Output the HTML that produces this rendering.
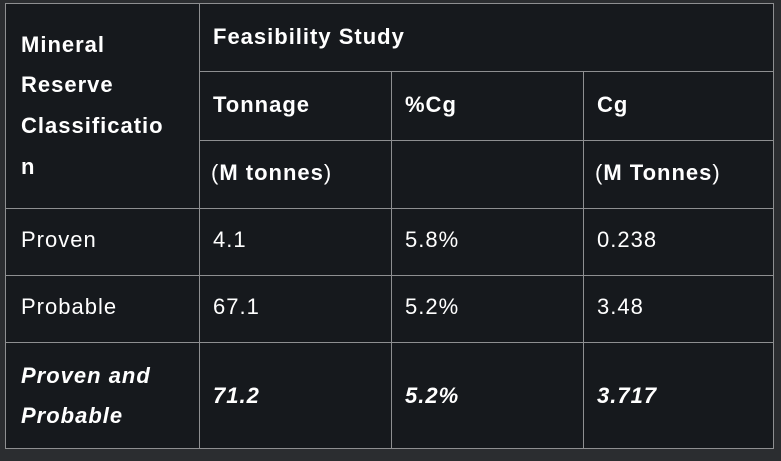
<!DOCTYPE html>
<html><head><style>
body{margin:0;width:781px;height:461px;background:#2b2d30;position:relative;overflow:hidden;font-family:"Liberation Sans",sans-serif;color:#fff}
.t{position:absolute;left:5px;top:3px;width:769px;height:446px;background:#16191d;border:1px solid #8e8f91;box-sizing:border-box}
.h{position:absolute;height:1px;background:#8e8f91}
.v{position:absolute;width:1px;background:#8e8f91}
.x{position:absolute;font-size:22px;letter-spacing:1px;white-space:nowrap}
.b{font-weight:bold}
.i{font-weight:bold;font-style:italic}
</style></head><body>
<div class="t"></div>
<div class="v" style="left:199px;top:3px;height:446px"></div>
<div class="v" style="left:391px;top:71px;height:378px"></div>
<div class="v" style="left:583px;top:71px;height:378px"></div>
<div class="h" style="left:199px;top:71px;width:575px"></div>
<div class="h" style="left:199px;top:140px;width:575px"></div>
<div class="h" style="left:5px;top:208px;width:769px"></div>
<div class="h" style="left:5px;top:275px;width:769px"></div>
<div class="h" style="left:5px;top:342px;width:769px"></div>

<div class="x b" style="left:21px;top:32px">Mineral</div>
<div class="x b" style="left:21px;top:72px">Reserve</div>
<div class="x b" style="left:21px;top:113px">Classificatio</div>
<div class="x b" style="left:21px;top:154px">n</div>
<div class="x b" style="left:213px;top:24px">Feasibility Study</div>
<div class="x b" style="left:213px;top:92px">Tonnage</div>
<div class="x b" style="left:405px;top:92px">%Cg</div>
<div class="x b" style="left:597px;top:92px">Cg</div>
<div class="x b" style="left:211px;top:160px"><span style="font-weight:normal">(</span>M tonnes<span style="font-weight:normal">)</span></div>
<div class="x b" style="left:595px;top:160px"><span style="font-weight:normal">(</span>M Tonnes<span style="font-weight:normal">)</span></div>

<div class="x" style="left:21px;top:227px">Proven</div>
<div class="x" style="left:213px;top:227px">4.1</div>
<div class="x" style="left:405px;top:227px">5.8%</div>
<div class="x" style="left:597px;top:227px">0.238</div>

<div class="x" style="left:21px;top:294px">Probable</div>
<div class="x" style="left:213px;top:294px">67.1</div>
<div class="x" style="left:405px;top:294px">5.2%</div>
<div class="x" style="left:597px;top:294px">3.48</div>

<div class="x i" style="left:21px;top:363px">Proven and</div>
<div class="x i" style="left:21px;top:403px">Probable</div>
<div class="x i" style="left:213px;top:383px">71.2</div>
<div class="x i" style="left:405px;top:383px">5.2%</div>
<div class="x i" style="left:597px;top:383px">3.717</div>
</body></html>
